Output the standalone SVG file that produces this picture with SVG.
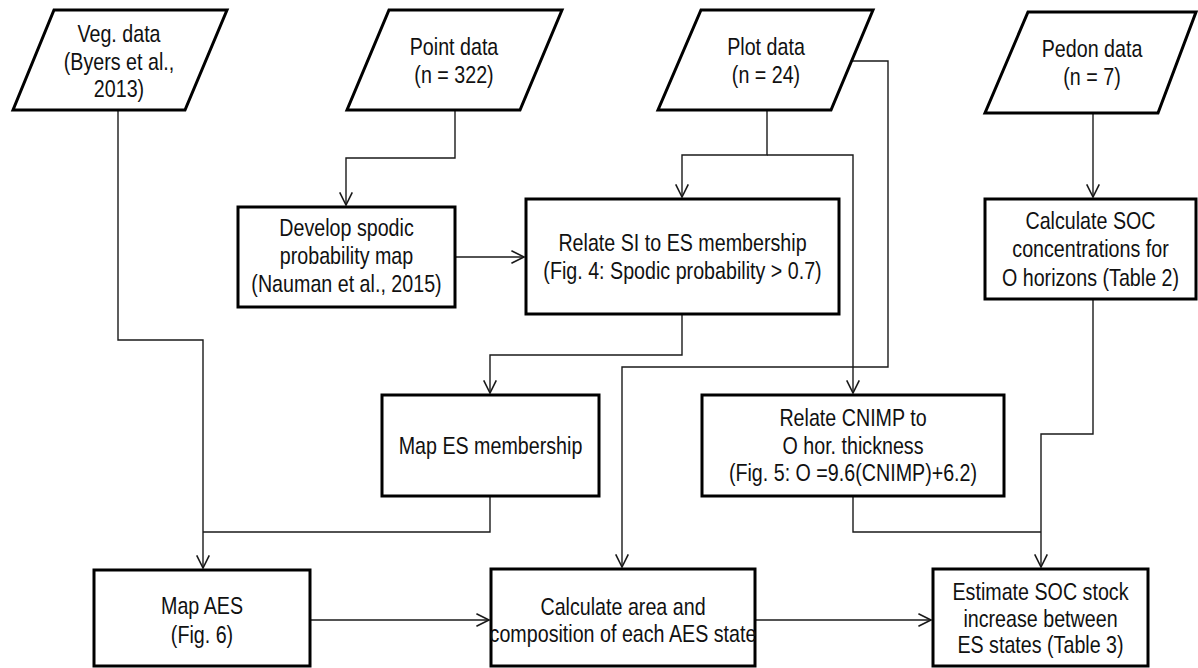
<svg xmlns="http://www.w3.org/2000/svg" width="1198" height="668" viewBox="0 0 1198 668">
<defs>
<style>
.shape{fill:#fff;stroke:#000;stroke-width:3;stroke-linejoin:miter}
.conn{fill:none;stroke:#1a1a1a;stroke-width:1.4}
text{font-family:"Liberation Sans Narrow","Arial Narrow","Liberation Sans",Arial,sans-serif;font-size:24px;fill:#111;text-anchor:middle}
</style>
<marker id="arr" markerUnits="userSpaceOnUse" markerWidth="16" markerHeight="16" refX="12" refY="6" orient="auto" viewBox="0 0 14 12">
<path d="M1,0.5 L12,6 L1,11.5" fill="none" stroke="#1a1a1a" stroke-width="1.4"/>
</marker>
</defs>
<rect width="1198" height="668" fill="#fff"/>
<g id="connectors">
<path class="conn" d="M118,110 V340 H203 V568" marker-end="url(#arr)"/>
<path class="conn" d="M455,110 V158 H346 V205" marker-end="url(#arr)"/>
<path class="conn" d="M767,110 V155 H682 V197" marker-end="url(#arr)"/>
<path class="conn" d="M767,155 H853 V393" marker-end="url(#arr)"/>
<path class="conn" d="M852,61 H888 V367 H622 V567" marker-end="url(#arr)"/>
<path class="conn" d="M1093,113 V197" marker-end="url(#arr)"/>
<path class="conn" d="M455,257 H524" marker-end="url(#arr)"/>
<path class="conn" d="M682,314 V355 H490 V393" marker-end="url(#arr)"/>
<path class="conn" d="M490,496 V532 H203"/>
<path class="conn" d="M853,496 V532 H1041"/>
<path class="conn" d="M1093,299 V434 H1041 V567" marker-end="url(#arr)"/>
<path class="conn" d="M310,620 H489" marker-end="url(#arr)"/>
<path class="conn" d="M755,620 H931" marker-end="url(#arr)"/>
</g>
<g id="veg">
<polygon class="shape" points="54,10 227,10 185,110 13,110"/>
<text transform="translate(119 42) scale(0.82 1)">Veg. data</text>
<text transform="translate(119 70) scale(0.82 1)">(Byers et al.,</text>
<text transform="translate(119 97) scale(0.82 1)">2013)</text>
</g>
<g id="point">
<polygon class="shape" points="389,10 562,10 520,110 347,110"/>
<text transform="translate(454 55) scale(0.82 1)">Point data</text>
<text transform="translate(454 83) scale(0.82 1)">(n = 322)</text>
</g>
<g id="plot">
<polygon class="shape" points="701,10 873,10 831,110 658,110"/>
<text transform="translate(766 55) scale(0.82 1)">Plot data</text>
<text transform="translate(766 83) scale(0.82 1)">(n = 24)</text>
</g>
<g id="pedon">
<polygon class="shape" points="1028,12 1196,12 1158,113 985,113"/>
<text transform="translate(1092 57) scale(0.82 1)">Pedon data</text>
<text transform="translate(1092 85) scale(0.82 1)">(n = 7)</text>
</g>
<g id="develop">
<rect class="shape" x="238" y="207" width="217" height="100"/>
<text transform="translate(346.5 236) scale(0.82 1)">Develop spodic</text>
<text transform="translate(346.5 264) scale(0.82 1)">probability map</text>
<text transform="translate(346.5 292) scale(0.82 1)">(Nauman et al., 2015)</text>
</g>
<g id="relateSI">
<rect class="shape" x="526" y="199" width="313" height="115"/>
<text transform="translate(682.5 251) scale(0.82 1)">Relate SI to ES membership</text>
<text transform="translate(682.5 279) scale(0.82 1)">(Fig. 4: Spodic probability &gt; 0.7)</text>
</g>
<g id="calcSOC">
<rect class="shape" x="985" y="199" width="211" height="100"/>
<text transform="translate(1090.5 229) scale(0.82 1)">Calculate SOC</text>
<text transform="translate(1090.5 257) scale(0.82 1)">concentrations for</text>
<text transform="translate(1090.5 286) scale(0.82 1)">O horizons (Table 2)</text>
</g>
<g id="mapES">
<rect class="shape" x="382" y="395" width="217" height="101"/>
<text transform="translate(490.5 454) scale(0.82 1)">Map ES membership</text>
</g>
<g id="relateCNIMP">
<rect class="shape" x="702" y="395" width="302" height="101"/>
<text transform="translate(853 426) scale(0.82 1)">Relate CNIMP to</text>
<text transform="translate(853 454) scale(0.82 1)">O hor. thickness</text>
<text transform="translate(853 481) scale(0.82 1)">(Fig. 5: O =9.6(CNIMP)+6.2)</text>
</g>
<g id="mapAES">
<rect class="shape" x="94" y="570" width="216" height="96"/>
<text transform="translate(202 614) scale(0.82 1)">Map AES</text>
<text transform="translate(202 643) scale(0.82 1)">(Fig. 6)</text>
</g>
<g id="calcArea">
<rect class="shape" x="491" y="569" width="264" height="97"/>
<text transform="translate(623 615) scale(0.82 1)">Calculate area and</text>
<text transform="translate(623 642) scale(0.82 1)">composition of each AES state</text>
</g>
<g id="estimate">
<rect class="shape" x="933" y="569" width="215" height="97"/>
<text transform="translate(1040.5 600) scale(0.82 1)">Estimate SOC stock</text>
<text transform="translate(1040.5 627) scale(0.82 1)">increase between</text>
<text transform="translate(1040.5 653) scale(0.82 1)">ES states (Table 3)</text>
</g>
</svg>
